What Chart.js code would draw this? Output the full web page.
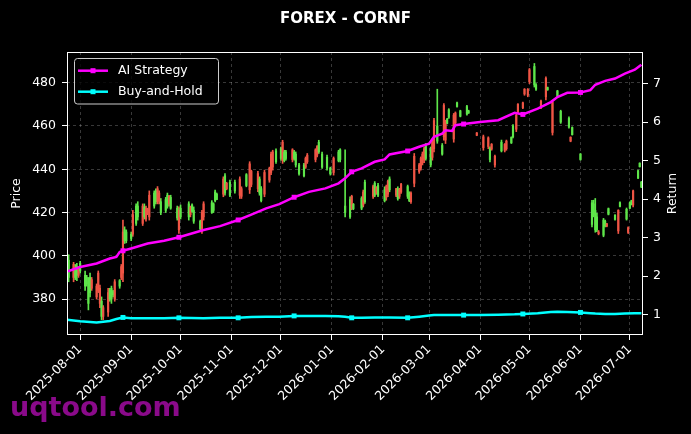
<!DOCTYPE html>
<html>
<head>
<meta charset="utf-8">
<script src="https://cdn.jsdelivr.net/npm/chart.js@4.4.1/dist/chart.umd.min.js"></script>
<style>
  html, body { margin: 0; padding: 0; background: #000; }
</style>
</head>
<body>
<canvas id="chart" width="691" height="434"></canvas>
<script>
const chartTitle = "FOREX - CORNF";
const seriesNames = ["AI Strategy", "Buy-and-Hold"];

const monthTicks = ["2025-08-01", "2025-09-01", "2025-10-01", "2025-11-01", "2025-12-01", "2026-01-01",
  "2026-02-01", "2026-03-01", "2026-04-01", "2026-05-01", "2026-06-01", "2026-07-01"];
const priceTicks = [380, 400, 420, 440, 460, 480];
const returnTicks = [1, 2, 3, 4, 5, 6, 7];

// daily candles, one line per month in every array
const candleDates = [
  "2025-07-25","2025-07-28","2025-07-29","2025-07-30","2025-07-31",
  "2025-08-01","2025-08-04","2025-08-05","2025-08-06","2025-08-07","2025-08-08","2025-08-11","2025-08-12","2025-08-13","2025-08-14","2025-08-15","2025-08-18","2025-08-19","2025-08-20","2025-08-21","2025-08-22","2025-08-25","2025-08-26","2025-08-27","2025-08-28","2025-08-29",
  "2025-09-01","2025-09-02","2025-09-04","2025-09-05","2025-09-08","2025-09-09","2025-09-10","2025-09-11","2025-09-12","2025-09-15","2025-09-16","2025-09-17","2025-09-18","2025-09-19","2025-09-22","2025-09-23","2025-09-24","2025-09-25","2025-09-29","2025-09-30",
  "2025-10-01","2025-10-06","2025-10-07","2025-10-08","2025-10-09","2025-10-13","2025-10-14","2025-10-15","2025-10-20","2025-10-21","2025-10-22","2025-10-23","2025-10-27","2025-10-28","2025-10-29","2025-10-31",
  "2025-11-03","2025-11-06","2025-11-07","2025-11-10","2025-11-12","2025-11-13","2025-11-17","2025-11-18","2025-11-19","2025-11-21","2025-11-24","2025-11-25","2025-11-26","2025-11-28",
  "2025-12-01","2025-12-02","2025-12-03","2025-12-04","2025-12-08","2025-12-09","2025-12-10","2025-12-12","2025-12-15","2025-12-16","2025-12-17","2025-12-22","2025-12-23","2025-12-24","2025-12-26","2025-12-29","2025-12-31",
  "2026-01-02","2026-01-05","2026-01-06","2026-01-09","2026-01-12","2026-01-13","2026-01-14","2026-01-19","2026-01-20","2026-01-21","2026-01-26","2026-01-27","2026-01-28","2026-01-29",
  "2026-02-02","2026-02-03","2026-02-04","2026-02-05","2026-02-09","2026-02-10","2026-02-11","2026-02-12","2026-02-16","2026-02-17","2026-02-18","2026-02-20","2026-02-23","2026-02-24","2026-02-25","2026-02-26","2026-02-27",
  "2026-03-02","2026-03-03","2026-03-04","2026-03-06","2026-03-09","2026-03-10","2026-03-11","2026-03-12","2026-03-13","2026-03-16","2026-03-17","2026-03-18","2026-03-20","2026-03-24","2026-03-25","2026-03-30",
  "2026-04-03","2026-04-06","2026-04-07","2026-04-08","2026-04-10","2026-04-14","2026-04-16","2026-04-17","2026-04-20","2026-04-21","2026-04-23","2026-04-24","2026-04-27","2026-04-28","2026-04-30",
  "2026-05-01","2026-05-04","2026-05-05","2026-05-08","2026-05-11","2026-05-12","2026-05-15","2026-05-18","2026-05-20","2026-05-25","2026-05-26","2026-05-27",
  "2026-06-01","2026-06-08","2026-06-09","2026-06-10","2026-06-11","2026-06-12","2026-06-15","2026-06-16","2026-06-17","2026-06-18","2026-06-22","2026-06-24","2026-06-25","2026-06-29","2026-06-30",
  "2026-07-01","2026-07-02","2026-07-03","2026-07-06","2026-07-07","2026-07-08"
];
const openPx = [
  390,396,390,391,394,
  393,386,387,378,383,389,386,392,385,372,376,383,380,380,382,388,386,395,411,407,407,
  408,419,415,418,423,418,422,421.5,428,423,425,431,429,420,421,423,427.5,422,417.5,421,
  418,418,422.5,420.5,416,412.5,420,424,420,421,425.5,426,435.5,429,433.5,428,
  430,435.5,431,432.5,442.5,439,438,429,425.5,438.5,440.5,447,448,443.5,
  445,452.5,444,445,449,445,442,438,437,445,446.5,449,450.5,448,441,440.5,438,
  445,444,444.5,420,418,427.5,421.8,422,429.5,425,432,428,431.5,428,
  425.5,432,434.5,430.5,431,426.5,430.5,433,427.5,425.5,429,446,442,445,447,449.5,445,
  442,452.5,462.5,453,447,469.5,462,461.2,464,465,466,469,464.5,465.5,466,456.8,
  455,454.5,444.5,451.5,446,448.5,451.5,453,452.2,455,465,470,470.7,477,477,
  486,479,477,471.5,482,476.7,471,473.8,461.8,459.5,454.8,456,
  444.5,414.5,419,412,412,411,409.5,413.8,414.8,419.2,416.8,421,422.8,417,413,
  422,423.7,430,436,441.2,431.8
];
const highPx = [
  400.5,397,396,396.5,395,
  397.5,393,391,390,392,390,387,393,386.5,381,377,385,385,386,384,389,389,396,416.5,413.4,412,
  411,421,424,425,424,424,423,422,430,430,431,432,430,426.5,427,429,428,428,423,422.6,
  423.5,425,423,424,422.6,416.5,421,425,425.5,424.5,430.4,429,436.5,438,434,435,
  435,436.5,431.9,438,443.5,439.6,439,436.5,432,439.6,441,448,448.8,449.5,
  450.3,453.4,448.8,448.8,449.5,448.8,448,442.7,442.7,445.7,447.3,449.5,451,453.4,448,446.5,441,
  445.7,448.8,449.5,449,427.3,428,424.2,427.3,430.4,435,432.7,434.3,432,433.5,
  431.9,432.7,435,436.5,431.2,431.9,431.2,433.5,432.7,429.6,429.6,447.3,442.7,445.7,448,450.3,451.9,
  450.3,453.4,463.5,477,451.9,470.4,462.7,463.5,468,465.8,466.5,471,467.3,469.6,467.3,457,
  455.8,455,450.4,451.9,446.5,453.5,451.9,453.5,455,460.6,465.8,470.4,471,477.3,477.3,
  486.6,488.9,479.6,472,482.7,478,471.9,476.5,467.3,464.2,455,459.6,
  447.3,425.7,425.7,426.5,419.6,411.7,417.3,416.5,415,422.1,419,421.3,424.9,422.1,413.4,
  424.9,425.7,430.4,439.6,443,434.4
];
const lowPx = [
  388,388,389,388.5,390,
  392,384,386,375,381,384,380,383,376,370.5,370.5,372,379,378,381,379,385,389,388,405.7,406,
  407,409,414,416.5,414,417,416,419,416.5,422,424,424,424,419,420,422,423,421.5,416.5,410.3,
  417,416.5,418,420,415,412,410.3,416.5,419.6,420,424.9,426,427.3,428,430.5,427.3,
  429,426.5,426.5,431.9,428.8,431.9,429.6,428,424.9,427.3,434,437.5,439.6,442.7,
  444.2,442.7,443.4,444.2,443.4,444.2,441,437.3,436.5,440.4,442.7,443.4,445.7,447.3,440.4,439.6,437.3,
  437.3,443.4,443.4,418,417.3,421.3,421.3,421.3,422.6,424.2,426.5,427.3,428.4,427.3,
  424.9,425.7,427.3,429.6,427.3,425.7,426.5,428.8,426.5,425,424.2,431.9,438.1,439.6,442,443,444.2,
  441.1,444.2,448,452,446.5,453.4,451.9,461,463.5,452.5,460.4,468.7,464.2,465,465.8,455.5,
  448.8,449.5,443.4,448.8,441,448,448,448.8,451.9,454.5,457.4,465.8,468,474.2,473.5,
  479.6,478,476.5,468,472,476.5,455.8,473.5,461.2,459,452.7,455.8,
  444.2,413.4,418,410.9,411.2,409.7,408.8,413.4,413.4,418.9,416.5,410.3,422.6,416.5,410.3,
  421.8,423.5,422.6,435.7,441,431.5
];
const closePx = [
  398,390,394,395,391,
  396.5,391,390,388,390,385,381,384,378,379,372,374,384,385,383.5,380,388.5,390,392,412,411,
  410,410,423,423,415,422.5,417,420,418,429,430,425,425.5,425,426,428,424,427,422,412,
  422,424,419,423.5,421,416,411.5,418,424.5,424,429.5,428.5,428.5,437,431,434,
  434,428,427.5,437.5,430.5,433,431,435.5,431,428.5,435,438.5,441,448.5,
  449.5,444,448,448,444.5,448,447,442,442,441,443.5,444.5,446.5,452.5,447,445.5,440.5,
  438.5,448,449,423,426,422,423.8,426.5,423.5,434,427.5,433.5,429,432.5,
  430.5,427,428.5,435.5,428,431,427.5,429.5,432,429,425,433.5,439,440.5,443,444.5,451,
  449.5,445.5,449.5,460,451,455,453.5,463.2,467.5,454,461.5,470.7,467,469,467,455.7,
  450,450.5,449.5,449.3,442,452.5,448.8,449.5,454.7,460,458.5,466.5,468.5,474.8,474.2,
  480.5,487.5,479,468.7,473.5,477.8,457,476.2,466.8,463.5,453,459.3,
  447,424.5,424,421,418,410.2,416.5,416,413.7,421.8,418.7,411.5,424.6,421.5,410.8,
  424.5,425.5,423.5,439.3,442.8,434
];

// cumulative returns (right axis)
const lineDates = [
  "2025-07-24","2025-08-01","2025-08-11","2025-08-19","2025-08-23","2025-08-25","2025-08-27","2025-09-01",
  "2025-09-11","2025-09-21","2025-09-30","2025-10-15","2025-10-25","2025-11-05","2025-11-13","2025-11-22",
  "2025-11-30","2025-12-09","2025-12-18","2025-12-28","2026-01-05","2026-01-09","2026-01-13","2026-01-19",
  "2026-01-27","2026-02-02","2026-02-05","2026-02-16","2026-02-23","2026-03-01","2026-03-04","2026-03-09",
  "2026-03-11","2026-03-15","2026-03-17","2026-03-22","2026-04-01","2026-04-12","2026-04-22","2026-04-27",
  "2026-05-06","2026-05-14","2026-05-18","2026-05-24","2026-06-01","2026-06-07","2026-06-10","2026-06-16",
  "2026-06-22","2026-06-28","2026-07-04","2026-07-08"
];
const aiReturn = [
  2.12, 2.24, 2.33, 2.46, 2.50, 2.63, 2.66, 2.72,
  2.85, 2.92, 3.01, 3.20, 3.30, 3.46, 3.60, 3.76,
  3.87, 4.05, 4.19, 4.28, 4.41, 4.54, 4.71, 4.80,
  4.97, 5.03, 5.16, 5.25, 5.36, 5.44, 5.62, 5.70,
  5.79, 5.77, 5.92, 5.95, 6.00, 6.05, 6.24, 6.20,
  6.35, 6.52, 6.65, 6.76, 6.77, 6.83, 6.97, 7.07,
  7.13, 7.26, 7.36, 7.49
];
const holdReturn = [
  0.87, 0.83, 0.80, 0.84, 0.89, 0.91, 0.93, 0.91,
  0.91, 0.91, 0.92, 0.91, 0.92, 0.92, 0.94, 0.95,
  0.95, 0.97, 0.97, 0.97, 0.96, 0.95, 0.92, 0.92,
  0.93, 0.93, 0.93, 0.92, 0.95, 0.98, 0.99, 0.99,
  0.99, 0.99, 0.99, 0.99, 0.99, 1.00, 1.01, 1.02,
  1.04, 1.07, 1.08, 1.07, 1.06, 1.04, 1.03, 1.02,
  1.02, 1.03, 1.04, 1.04
];
const markerDates = ["2025-08-27", "2025-09-30", "2025-11-05", "2025-12-09", "2026-01-13",
  "2026-02-16", "2026-03-22", "2026-04-27", "2026-06-01"];

const DAY0 = Date.UTC(2025, 7, 1);
function dayNum(s) {
  const [y, m, d] = s.split("-").map(Number);
  return (Date.UTC(y, m - 1, d) - DAY0) / 86400000;
}

const UP = "#5ee64a";
const DOWN = "#f05545";
const candleColors = candleDates.map((d, i) => closePx[i] >= openPx[i] ? UP : DOWN);
const tickLabel = new Map(monthTicks.map(t => [dayNum(t), t]));
const markerSet = new Set(markerDates);
const FONT = "DejaVu Sans";
const gridColor = "rgba(255,255,255,0.28)";

const decor = {
  id: "decor",
  beforeDraw(chart) {
    const ctx = chart.ctx;
    ctx.save();
    ctx.fillStyle = "#000";
    ctx.fillRect(0, 0, chart.width, chart.height);
    // watermark sits under the tick labels
    ctx.font = "bold 27px '" + FONT + "'";
    ctx.fillStyle = "#8a0a8a";
    ctx.textBaseline = "alphabetic";
    ctx.fillText("uqtool.com", 10, 416);
    ctx.restore();
  },
  afterDraw(chart) {
    const ctx = chart.ctx;
    const a = chart.chartArea;
    ctx.save();
    ctx.strokeStyle = "#fff";
    ctx.lineWidth = 1;
    ctx.strokeRect(Math.round(a.left) + 0.5, Math.round(a.top) + 0.5,
      Math.round(a.right - a.left) - 1, Math.round(a.bottom - a.top) - 1);

    ctx.fillStyle = "#fff";
    ctx.font = "bold 15px '" + FONT + "'";
    ctx.textAlign = "center";
    ctx.textBaseline = "alphabetic";
    ctx.fillText(chartTitle, chart.width / 2, 23);

    // axis titles, both read bottom to top
    const midY = (a.top + a.bottom) / 2;
    ctx.font = "12.5px '" + FONT + "'";
    ctx.textBaseline = "middle";
    ctx.save();
    ctx.translate(17, midY);
    ctx.rotate(-Math.PI / 2);
    ctx.fillText("Price", 0, 0);
    ctx.restore();
    ctx.save();
    ctx.translate(673, midY);
    ctx.rotate(-Math.PI / 2);
    ctx.fillText("Return", 0, 0);
    ctx.restore();

    // legend box
    const bx = 74.5, by = 58.5, bw = 144, bh = 45.5;
    ctx.beginPath();
    ctx.roundRect(bx, by, bw, bh, 3);
    ctx.fillStyle = "rgba(0,0,0,0.8)";
    ctx.fill();
    ctx.strokeStyle = "#cccccc";
    ctx.lineWidth = 1;
    ctx.stroke();
    const rows = [[seriesNames[0], "#ff00ff", 70.7], [seriesNames[1], "#00ffff", 91.7]];
    rows.forEach(([name, col, y]) => {
      ctx.strokeStyle = col;
      ctx.lineWidth = 2.5;
      ctx.beginPath();
      ctx.moveTo(78, y);
      ctx.lineTo(108, y);
      ctx.stroke();
      ctx.fillStyle = col;
      ctx.fillRect(90.5, y - 2.5, 5, 5);
      ctx.fillStyle = "#fff";
      ctx.textAlign = "left";
      ctx.textBaseline = "middle";
      ctx.fillText(name, 118, y);
    });
    ctx.restore();
  }
};

function lineSet(label, values, color, order) {
  return {
    type: "line",
    label,
    data: lineDates.map((d, i) => ({ x: dayNum(d), y: values[i] })),
    yAxisID: "yR",
    borderColor: color,
    backgroundColor: color,
    borderWidth: 2.5,
    tension: 0,
    pointStyle: "rect",
    pointRadius: c => markerSet.has(lineDates[c.dataIndex]) ? 3.5 : 0,
    pointBorderWidth: 0,
    pointBackgroundColor: color,
    order
  };
}

new Chart(document.getElementById("chart"), {
  type: "bar",
  data: {
    datasets: [
      lineSet(seriesNames[0], aiReturn, "#ff00ff", 0),
      lineSet(seriesNames[1], holdReturn, "#00ffff", 1),
      {
        label: "wick",
        data: candleDates.map((d, i) => ({ x: dayNum(d), y: [lowPx[i], highPx[i]] })),
        yAxisID: "yP",
        backgroundColor: candleColors,
        barThickness: 1,
        grouped: false,
        borderWidth: 0,
        order: 3
      },
      {
        label: "body",
        data: candleDates.map((d, i) => ({
          x: dayNum(d),
          y: [Math.min(openPx[i], closePx[i]), Math.max(openPx[i], closePx[i])]
        })),
        yAxisID: "yP",
        backgroundColor: candleColors,
        barThickness: 1.5,
        grouped: false,
        borderWidth: 0,
        order: 2
      }
    ]
  },
  options: {
    responsive: false,
    animation: false,
    devicePixelRatio: 1,
    layout: { padding: { top: 52, left: 0, right: 0, bottom: 0 } },
    plugins: { legend: { display: false }, tooltip: { enabled: false }, title: { display: false } },
    scales: {
      x: {
        type: "linear",
        min: dayNum("2025-07-24"),
        max: dayNum("2026-07-09"),
        offset: false,
        afterBuildTicks: s => { s.ticks = monthTicks.map(t => ({ value: dayNum(t) })); },
        afterFit: s => { s.height = 99; },
        grid: { color: gridColor, lineWidth: 0.8, offset: false, tickColor: "#fff", tickLength: 5, tickWidth: 1, tickBorderDash: [] },
        border: { display: false, dash: [3, 3] },
        ticks: {
          color: "#fff",
          font: { family: FONT, size: 12.5 },
          minRotation: 45,
          maxRotation: 45,
          autoSkip: false,
          padding: 2,
          callback: v => tickLabel.get(v) || ""
        }
      },
      yP: {
        position: "left",
        min: 363.4,
        max: 494.2,
        afterBuildTicks: s => { s.ticks = priceTicks.map(v => ({ value: v })); },
        afterFit: s => { s.width = 67; },
        grid: { color: gridColor, lineWidth: 0.8, tickColor: "#fff", tickLength: 5, tickWidth: 1, tickBorderDash: [] },
        border: { display: false, dash: [3, 3] },
        ticks: { color: "#fff", font: { family: FONT, size: 12.5 }, padding: 6, callback: v => String(v) }
      },
      yR: {
        position: "right",
        min: 0.474,
        max: 7.82,
        afterBuildTicks: s => { s.ticks = returnTicks.map(v => ({ value: v })); },
        afterFit: s => { s.width = 48; },
        grid: { drawOnChartArea: false, tickColor: "#fff", tickLength: 5, tickWidth: 1, tickBorderDash: [] },
        border: { display: false },
        ticks: { color: "#fff", font: { family: FONT, size: 12.5 }, padding: 5, callback: v => String(v) }
      }
    }
  },
  plugins: [decor]
});
</script>
</body>
</html>
